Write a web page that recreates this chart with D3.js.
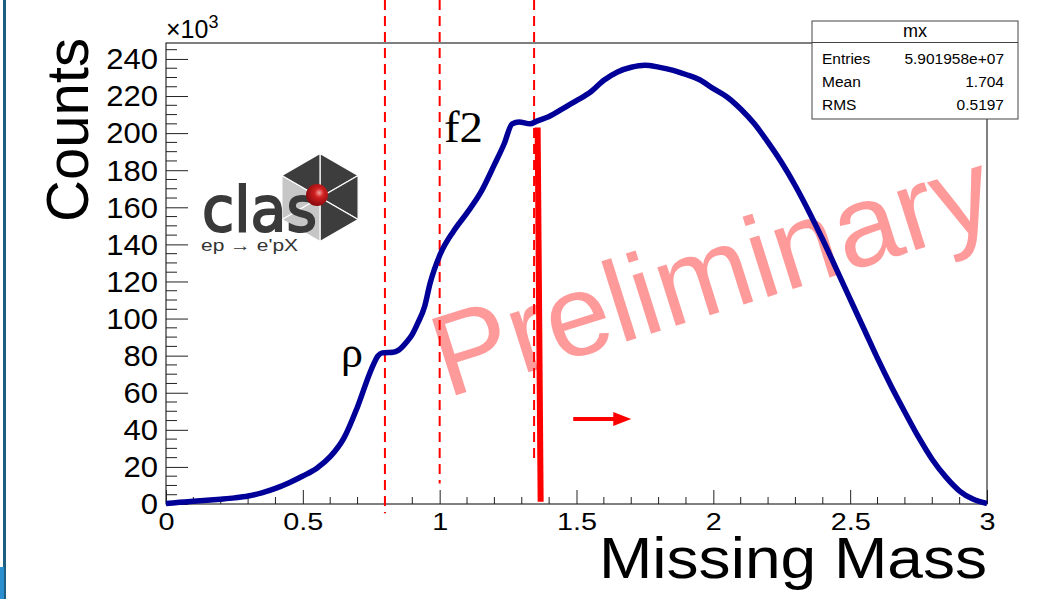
<!DOCTYPE html>
<html>
<head>
<meta charset="utf-8">
<script src="https://cdn.jsdelivr.net/npm/d3@7"></script>
<style>
  html, body { margin: 0; padding: 0; background: #fff; }
  svg { display: block; font-family: "Liberation Sans", Arial, Helvetica, sans-serif; }
</style>
</head>
<body>
<svg id="chart" width="1038" height="599"></svg>
<script>
// ---------------- data ----------------
const massX = [0.00,0.05,0.10,0.15,0.20,0.25,0.30,0.35,0.40,0.45,0.50,0.55,0.60,0.65,0.70,0.75,0.775,0.79,0.80,0.83,0.85,0.88,0.90,0.92,0.945,0.965,1.00,1.05,1.10,1.15,1.20,1.235,1.265,1.29,1.33,1.355,1.40,1.45,1.50,1.55,1.60,1.65,1.70,1.75,1.80,1.85,1.90,1.95,2.00,2.05,2.10,2.15,2.20,2.25,2.30,2.35,2.40,2.45,2.50,2.55,2.60,2.65,2.70,2.75,2.80,2.85,2.90,2.95,3.00];
const countsK = [0.3,0.9,1.5,2.0,2.6,3.3,4.3,6.0,8.4,11.5,15.1,19.2,25.5,35.5,52.5,72.5,80.0,81.5,81.6,81.8,83.0,87.5,91.5,97.5,106.5,119.0,134.0,147.0,157.0,168.0,183.0,194.0,205.0,206.0,205.0,206.5,209.0,213.2,217.5,222.0,228.5,233.0,235.5,236.6,235.6,234.0,231.6,228.8,224.0,219.5,213.0,205.0,195.0,184.0,171.5,157.5,142.5,126.5,110.5,94.5,78.5,63.5,49.5,36.0,24.0,14.5,7.0,2.5,0.3];

const xTicks = [0, 0.5, 1, 1.5, 2, 2.5, 3];
const xTickLabels = ["0", "0.5", "1", "1.5", "2", "2.5", "3"];
const yTicks = [0, 20, 40, 60, 80, 100, 120, 140, 160, 180, 200, 220, 240];

const markerLines = [0.8, 1.0, 1.345];          // dashed red lines (mass)
const markerEnds = [-5, 11, 22];                 // lower end of each dashed line (counts, k)
const cutLine = [[1.358, 203], [1.369, 1.2]];    // thick red cut line
const arrowPts = [[1.488, 45.8], [1.70, 45.8]];  // red arrow

const statsLabels = ["Entries", "Mean", "RMS"];
const statsValues = ["5.901958e+07", "1.704", "0.5197"];

// ---------------- layout ----------------
const svg = d3.select("#chart");
const L = 166, R = 987, T = 43, B = 504;
const x = d3.scaleLinear().domain([0, 3]).range([L, R]);
const y = d3.scaleLinear().domain([0, 248.6]).range([B, T]);
const SANS = "'Liberation Sans', Arial, Helvetica, sans-serif";
const SERIF = "'Liberation Serif', 'Times New Roman', serif";

// left slide edge decoration
svg.append("rect").attr("x", 3).attr("y", 0).attr("width", 3).attr("height", 599).attr("fill", "#1d5f80");
svg.append("rect").attr("x", 0).attr("y", 567).attr("width", 4).attr("height", 32).attr("fill", "#2b8fcf");

// Preliminary watermark
svg.append("text")
  .attr("transform", "translate(447,398) rotate(-17.5)")
  .attr("font-size", 116)
  .attr("fill", "#ff9a9a")
  .style("font-family", SANS)
  .text("Preliminary");

// frame
svg.append("rect").attr("x", L).attr("y", T).attr("width", R - L).attr("height", B - T)
  .attr("fill", "none").attr("stroke", "#000").attr("stroke-width", 1);

// y axis
const yAxis = d3.axisLeft(y).tickValues(yTicks).tickSize(-22).tickPadding(8).tickFormat(d => d);
const gy = svg.append("g").attr("transform", `translate(${L},0)`).call(yAxis);
gy.select(".domain").remove();
gy.selectAll(".tick line").attr("stroke", "#222");
gy.selectAll(".tick text").attr("font-size", 29).attr("fill", "#000")
  .style("font-family", SANS)
  .attr("x", -8 / 1.07).attr("dy", "0.34em").attr("transform", "scale(1.07,1)");
const yMinor = d3.range(5, 250, 5).filter(v => v % 20 !== 0);
svg.append("g").selectAll("line").data(yMinor).join("line")
  .attr("x1", L).attr("x2", L + 11).attr("y1", d => y(d)).attr("y2", d => y(d))
  .attr("stroke", "#222");

// x axis
const xAxis = d3.axisBottom(x).tickValues(xTicks).tickSize(-14)
  .tickFormat((d, i) => xTickLabels[i]);
const gx = svg.append("g").attr("transform", `translate(0,${B})`).call(xAxis);
gx.select(".domain").remove();
gx.selectAll(".tick line").attr("stroke", "#222");
gx.selectAll(".tick text").attr("font-size", 24).attr("fill", "#000")
  .style("font-family", SANS)
  .attr("y", 26).attr("dy", 0).attr("transform", "scale(1.2,1)");
const xMinor = d3.range(1, 30).map(i => i / 10).filter(v => Math.abs(v * 2 - Math.round(v * 2)) > 1e-6);
svg.append("g").selectAll("line").data(xMinor).join("line")
  .attr("x1", d => x(d)).attr("x2", d => x(d)).attr("y1", B).attr("y2", B - 7)
  .attr("stroke", "#222");

// axis titles
svg.append("text").attr("transform", "translate(88,38) rotate(-90)")
  .attr("text-anchor", "end").attr("font-size", 59)
  .attr("textLength", 184).attr("lengthAdjust", "spacingAndGlyphs").text("Counts");
svg.append("text").attr("x", 987).attr("y", 578).attr("text-anchor", "end")
  .attr("font-size", 58).attr("textLength", 388).attr("lengthAdjust", "spacingAndGlyphs")
  .text("Missing Mass");

// x10^3
const exp = svg.append("text").attr("x", 166).attr("y", 38).attr("font-size", 25);
exp.append("tspan").text("\u00d710");
exp.append("tspan").attr("font-size", 18).attr("dy", -10).text("3");

// dashed marker lines
svg.append("g").selectAll("line").data(markerLines).join("line")
  .attr("x1", d => x(d)).attr("x2", d => x(d))
  .attr("y1", 0).attr("y2", (d, i) => y(markerEnds[i]))
  .attr("stroke", "#ff0000").attr("stroke-width", 2).attr("stroke-dasharray", "10,6");

// histogram curve
const pts = massX.map((m, i) => [m, countsK[i]]);
svg.append("path").datum(pts)
  .attr("d", d3.line().x(d => x(d[0])).y(d => y(d[1])).curve(d3.curveMonotoneX))
  .attr("fill", "none").attr("stroke", "#000099").attr("stroke-width", 5.5)
  .attr("stroke-linejoin", "round");

// thick cut line
svg.append("line")
  .attr("x1", x(cutLine[0][0])).attr("y1", y(cutLine[0][1]))
  .attr("x2", x(cutLine[1][0])).attr("y2", y(cutLine[1][1]))
  .attr("stroke", "#ff0000").attr("stroke-width", 6);

// arrow
const ax1 = x(arrowPts[0][0]), ax2 = x(arrowPts[1][0]), ay = y(arrowPts[0][1]);
svg.append("line").attr("x1", ax1).attr("x2", ax2 - 14).attr("y1", ay).attr("y2", ay)
  .attr("stroke", "#ff0000").attr("stroke-width", 4);
svg.append("path").attr("d", `M${ax2},${ay} L${ax2 - 18},${ay - 7} L${ax2 - 18},${ay + 7} Z`)
  .attr("fill", "#ff0000");

// particle labels
svg.append("text").attr("x", 341).attr("y", 367).attr("font-size", 44)
  .style("font-family", SERIF).text("\u03c1");
svg.append("text").attr("x", 444).attr("y", 142).attr("font-size", 44)
  .style("font-family", SERIF)
  .attr("textLength", 39).attr("lengthAdjust", "spacingAndGlyphs").text("f2");

// stats box
const sb = svg.append("g");
sb.append("rect").attr("x", 812).attr("y", 21).attr("width", 206).attr("height", 98)
  .attr("fill", "#fff").attr("stroke", "#444").attr("stroke-width", 1);
sb.append("line").attr("x1", 812).attr("x2", 1018).attr("y1", 42.5).attr("y2", 42.5)
  .attr("stroke", "#444");
sb.append("text").attr("x", 915).attr("y", 37).attr("text-anchor", "middle")
  .attr("font-size", 18).text("mx");
statsLabels.forEach((lab, i) => {
  sb.append("text").attr("x", 822).attr("y", 64 + i * 23).attr("font-size", 15.5).text(lab);
  sb.append("text").attr("x", 1004).attr("y", 64 + i * 23).attr("font-size", 15.5)
    .attr("text-anchor", "end").text(statsValues[i]);
});

// CLAS logo
const logo = svg.append("g");
const cx = 320, cy = 197.5, r = 44;
const hv = d3.range(6).map(k => {
  const a = -Math.PI / 2 + k * Math.PI / 3;
  return [cx + r * Math.cos(a), cy + r * Math.sin(a)];
});
const triFill = ["#3d3d3d", "#3d3d3d", "#3d3d3d", "#c6c6c6", "#c6c6c6", "#3d3d3d"];
hv.forEach((p, k) => {
  const q = hv[(k + 1) % 6];
  logo.append("path").attr("d", `M${cx},${cy} L${p[0]},${p[1]} L${q[0]},${q[1]} Z`)
    .attr("fill", triFill[k]).attr("stroke", "#fff").attr("stroke-width", 1.2);
});
logo.append("text").attr("x", 202).attr("y", 231).attr("font-size", 62)
  .style("font-family", "'DejaVu Sans', sans-serif")
  .attr("fill", "#3a3a3a").attr("stroke", "#3a3a3a").attr("stroke-width", 2)
  .attr("textLength", 115).attr("lengthAdjust", "spacingAndGlyphs")
  .text("clas");
const defs = svg.append("defs");
const rg = defs.append("radialGradient").attr("id", "ball").attr("cx", "60%").attr("cy", "40%").attr("r", "60%");
rg.append("stop").attr("offset", "0%").attr("stop-color", "#f6a0a0");
rg.append("stop").attr("offset", "35%").attr("stop-color", "#d02020");
rg.append("stop").attr("offset", "100%").attr("stop-color", "#8a0a0e");
logo.append("circle").attr("cx", 317).attr("cy", 195).attr("r", 11).attr("fill", "url(#ball)");
logo.append("text").attr("x", 201).attr("y", 251).attr("font-size", 16).attr("fill", "#333")
  .attr("textLength", 97).attr("lengthAdjust", "spacingAndGlyphs")
  .text("ep \u2192 e'pX");
</script>
</body>
</html>
